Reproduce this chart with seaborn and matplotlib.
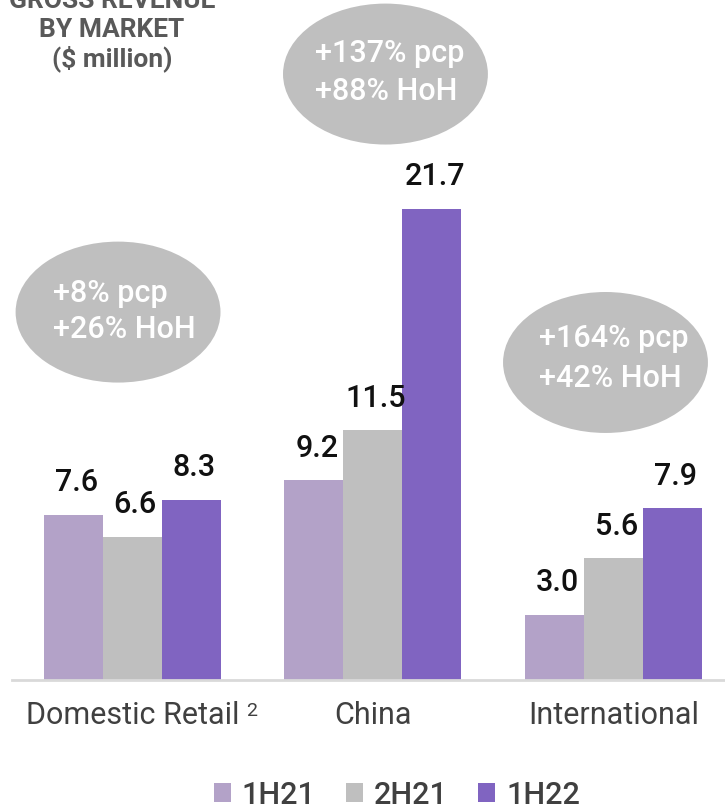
import matplotlib
matplotlib.use("Agg")
import matplotlib.pyplot as plt
from matplotlib.patches import Ellipse
import pandas as pd
import seaborn as sns

# Gross revenue by market, $ million
markets = ["Domestic Retail", "China", "International"]
periods = ["1H21", "2H21", "1H22"]
rev_1h21 = [7.6, 9.2, 3.0]
rev_2h21 = [6.6, 11.5, 5.6]
rev_1h22 = [8.3, 21.7, 7.9]

# Growth call-outs per market
growth_pcp = ["+8% pcp", "+137% pcp", "+164% pcp"]
growth_hoh = ["+26% HoH", "+88% HoH", "+42% HoH"]

colors = ["#B3A2C8", "#BFBFBF", "#8064C1"]

df = pd.DataFrame({
    "market": markets * 3,
    "period": [p for p in periods for _ in markets],
    "revenue": rev_1h21 + rev_2h21 + rev_1h22,
})

sns.set_theme(style="white")
plt.rcParams["font.family"] = ["Roboto", "DejaVu Sans"]

W, H = 725, 808
fig = plt.figure(figsize=(W / 100, H / 100), dpi=100)
ax = fig.add_axes([12 / W, 128 / H, 713 / W, 680 / H])

sns.barplot(data=df, x="market", y="revenue", hue="period", order=markets,
            hue_order=periods, palette=colors, width=0.736, saturation=1,
            linewidth=0, ax=ax)

ax.set_xlim(-0.501, 2.464)
ax.set_ylim(0, 31.31)
ax.set_xlabel("")
ax.set_ylabel("")
ax.set_yticks([])
for side in ["top", "left", "right"]:
    ax.spines[side].set_visible(False)
ax.spines["bottom"].set_color("#D9D9D9")
ax.spines["bottom"].set_linewidth(2)
ax.tick_params(axis="x", length=0, pad=15, labelsize=22, labelcolor="#404040")

# Value labels above each bar
for container in ax.containers:
    for bar in container:
        v = bar.get_height()
        ax.annotate(f"{v:.1f}", xy=(bar.get_x() + bar.get_width() / 2, v),
                    xytext=(2, 17), textcoords="offset points",
                    ha="center", va="baseline", fontsize=22,
                    fontweight="medium", color="#111111")

# Growth bubbles
bubble_centers = [(-0.060, 16.94), (1.052, 27.9), (1.967, 14.62)]
text_left = [-0.331, 0.759, 1.690]
line1_y = [17.40, 28.45, 15.33]
line2_y = [15.75, 26.70, 13.49]
for i in range(3):
    ax.add_patch(Ellipse(bubble_centers[i], width=0.852, height=6.49,
                         facecolor="#BFBFBF", edgecolor="none", zorder=3))
    ax.text(text_left[i], line1_y[i], growth_pcp[i], ha="left", va="baseline",
            fontsize=22, fontweight="medium", color="white", zorder=4)
    ax.text(text_left[i], line2_y[i], growth_hoh[i], ha="left", va="baseline",
            fontsize=22, fontweight="medium", color="white", zorder=4)

# Footnote marker on the first market label
fig.text(246 / W, 1 - 716 / H, "2", ha="left", va="baseline",
         fontsize=14, color="#404040")

# Title block
title_lines = ["GROSS REVENUE", "BY MARKET", "($ million)"]
title_base = [8, 37, 66]
for line, yb in zip(title_lines, title_base):
    fig.text(112 / W, 1 - yb / H, line, ha="center", va="baseline",
             fontsize=19, fontweight="bold", color="#595959")

sns.move_legend(ax, "center", bbox_to_anchor=(397 / W, 13 / H),
                bbox_transform=fig.transFigure, ncol=3, frameon=False,
                title=None, fontsize=22, handlelength=0.55, handleheight=0.6,
                handletextpad=0.36, columnspacing=1.0, labelcolor="#404040")
for t in ax.get_legend().get_texts():
    t.set_fontweight("medium")

fig.savefig("out.png", dpi=100)
